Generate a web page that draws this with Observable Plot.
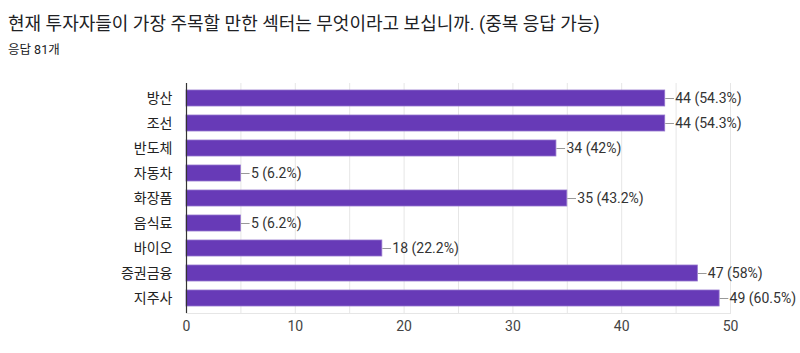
<!DOCTYPE html>
<html><head><meta charset="utf-8">
<script src="https://cdn.jsdelivr.net/npm/d3@7"></script>
<script src="https://cdn.jsdelivr.net/npm/@observablehq/plot@0.6"></script>
<style>
body{margin:0;background:#fff;font-family:Roboto,"Noto Sans CJK KR",sans-serif;}
#title{position:absolute;left:8px;top:9px;font-size:18px;color:#202124;white-space:nowrap;}
#sub{position:absolute;left:8px;top:39px;font-size:12.5px;color:#202124;}
#chart{position:absolute;left:0;top:60px;}
</style></head><body>
<div id="title">현재 투자자들이 가장 주목할 만한 섹터는 무엇이라고 보십니까. (중복 응답 가능)</div>
<div id="sub">응답 81개</div>
<div id="chart"></div>
<script>
const categories = ["방산","조선","반도체","자동차","화장품","음식료","바이오","증권금융","지주사"];
const counts = [44,44,34,5,35,5,18,47,49];
const percents = ["54.3%","54.3%","42%","6.2%","43.2%","6.2%","22.2%","58%","60.5%"];
const xTicks = [0,10,20,30,40,50];
const gridTicks = [5,10,15,20,25,30,35,40,45,50];

const data = categories.map((c,i)=>({cat:c, v:counts[i], label:`${counts[i]} (${percents[i]})`}));

const chart = Plot.plot({
  width: 800,
  height: 293,
  marginLeft: 186,
  marginRight: 70,
  marginTop: 23,
  marginBottom: 40,
  style: {fontFamily: 'Roboto,"Noto Sans CJK KR",sans-serif', fontSize: "14px", color: "#444"},
  x: {domain: [0,50], ticks: xTicks, tickSize: 0, tickPadding: 8, label: null},
  y: {domain: categories, paddingInner: 0.38, paddingOuter: 0.155, tickSize: 0, tickPadding: 14, label: null},
  marks: [
    Plot.ruleX(gridTicks, {stroke: "#e6e6e6", strokeOpacity: 1}),
    Plot.frame({anchor: "bottom", stroke: "#e6e6e6", strokeOpacity: 1}),
    Plot.barX(data, {x: "v", y: "cat", fill: "#673ab7", stroke: "#9575cd", strokeWidth: 0.8}),
    Plot.link(data, {x1: "v", x2: d => d.v + 0.8, y1: "cat", y2: "cat", stroke: "#999", strokeWidth: 1}),
    Plot.text(data, {x: "v", y: "cat", text: "label", textAnchor: "start", dx: 10, fill: "#333", fontSize: 14}),
    Plot.axisY({tickSize: 0, tickPadding: 14, fill: "#222", fontSize: 14}),
    Plot.ruleX([0], {stroke: "#333", strokeWidth: 1.2})
  ]
});
document.getElementById("chart").appendChild(chart);
</script>
</body></html>
